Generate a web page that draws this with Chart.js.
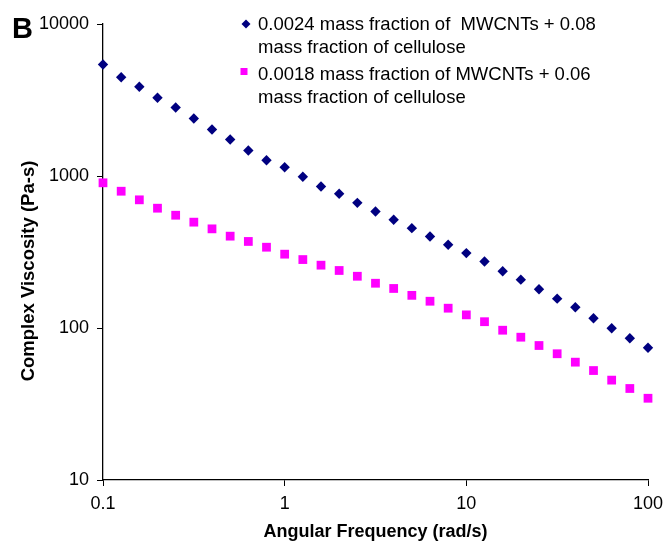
<!DOCTYPE html>
<html>
<head>
<meta charset="utf-8">
<script src="https://cdn.jsdelivr.net/npm/chart.js@4/dist/chart.umd.min.js"></script>
<style>
	html, body { margin: 0; padding: 0; background: #fff; }
	#wrap { width: 665px; height: 543px; position: relative; }
</style>
</head>
<body>
<div id="wrap"><canvas id="chart"></canvas></div>
<script>
'use strict';

// angular frequency (rad/s)
const frequencies = [
	0.1, 0.1259, 0.1585, 0.1995, 0.2512, 0.3162, 0.3981, 0.5012, 0.631, 0.7943,
	1, 1.259, 1.585, 1.995, 2.512, 3.162, 3.981, 5.012, 6.31, 7.943,
	10, 12.59, 15.85, 19.95, 25.12, 31.62, 39.81, 50.12, 63.1, 79.43, 100
];

// complex viscosity (Pa-s), 0.0024 MWCNTs + 0.08 cellulose
const viscosityHigh = [
	5415, 4467, 3862, 3269, 2823, 2389, 2022, 1739, 1472, 1270,
	1143, 988, 853, 764, 666, 584, 515, 454, 400, 353,
	311, 274, 236, 208, 180, 156, 137, 116, 99.7, 85.7, 74.1
];

// complex viscosity (Pa-s), 0.0018 MWCNTs + 0.06 cellulose
const viscosityLow = [
	902, 794, 697, 614, 552, 497, 449, 402, 371, 340,
	306, 282, 259, 239, 219, 197, 182, 164, 150, 135,
	122, 110, 96.7, 87, 76.7, 67.7, 59.6, 52.5, 45.4, 40, 34.5
];

const seriesLabels = [
	['0.0024 mass fraction of  MWCNTs + 0.08', 'mass fraction of cellulose'],
	['0.0018 mass fraction of MWCNTs + 0.06', 'mass fraction of cellulose']
];

const xTicks = [0.1, 1, 10, 100];
const yTicks = [10, 100, 1000, 10000];

const xTitle = 'Angular Frequency (rad/s)';
const yTitle = 'Complex Viscosity (Pa-s)';
const panelLetter = 'B';

const FONT = 'Arial, "Liberation Sans", sans-serif';

const toPoints = (ys) => ys.map((y, i) => ({x: frequencies[i], y: y}));

// legend inside the plot, panel letter and y title
const extras = {
	id: 'extras',
	afterDraw(chart) {
		const ctx = chart.ctx;
		const entries = [
			{x: 246, y: 24, lines: [30, 52.5]},
			{x: 244, y: 71.5, lines: [80, 102.5]}
		];
		ctx.save();
		chart.data.datasets.forEach((ds, i) => {
			const e = entries[i];
			ctx.fillStyle = ds.backgroundColor;
			ctx.beginPath();
			if (ds.pointStyle === 'rectRot') {
				ctx.moveTo(e.x, e.y - 4.5);
				ctx.lineTo(e.x + 4.5, e.y);
				ctx.lineTo(e.x, e.y + 4.5);
				ctx.lineTo(e.x - 4.5, e.y);
				ctx.closePath();
			} else {
				ctx.rect(e.x - 3.5, e.y - 3.5, 7, 7);
			}
			ctx.fill();

			ctx.fillStyle = '#000';
			ctx.font = '18.5px ' + FONT;
			ctx.textAlign = 'left';
			ctx.textBaseline = 'alphabetic';
			ds.label.forEach((line, j) => {
				ctx.fillText(line, 258, e.lines[j]);
			});
		});

		ctx.font = 'bold 29px ' + FONT;
		ctx.fillText(panelLetter, 12, 38);

		ctx.translate(29, 271);
		ctx.rotate(-Math.PI / 2);
		ctx.font = 'bold 18.5px ' + FONT;
		ctx.textAlign = 'center';
		ctx.textBaseline = 'middle';
		ctx.fillText(yTitle, 0, 0);
		ctx.restore();
	}
};

window.onload = function() {
	const canvas = document.getElementById('chart');

	const axisFont = {family: FONT, size: 18};
	const titleFont = {family: FONT, size: 18, weight: 'bold'};

	new Chart(canvas, {
		type: 'scatter',
		data: {
			datasets: [
				{
					label: seriesLabels[0],
					data: toPoints(viscosityHigh),
					pointStyle: 'rectRot',
					pointRadius: 5.2,
					pointHoverRadius: 5.2,
					backgroundColor: '#000080',
					borderColor: '#000080',
					borderWidth: 0,
					clip: false
				},
				{
					label: seriesLabels[1],
					data: toPoints(viscosityLow),
					pointStyle: 'rect',
					pointRadius: 6.2,
					pointHoverRadius: 6.2,
					backgroundColor: '#ff00ff',
					borderColor: '#ff00ff',
					borderWidth: 0,
					clip: false
				}
			]
		},
		options: {
			responsive: true,
			maintainAspectRatio: false,
			animation: false,
			events: [],
			layout: {
				padding: {left: 0, top: 24, right: 17, bottom: 0}
			},
			plugins: {
				legend: {display: false},
				tooltip: {enabled: false}
			},
			scales: {
				x: {
					type: 'logarithmic',
					min: 0.1,
					max: 100,
					afterBuildTicks: (scale) => {
						scale.ticks = xTicks.map(v => ({value: v}));
					},
					afterFit: (scale) => {
						scale.height = 63;
						scale.paddingLeft = 0;
						scale.paddingRight = 0;
					},
					ticks: {
						color: '#000',
						font: axisFont,
						padding: 7,
						maxRotation: 0,
						autoSkip: false,
						callback: (v) => String(v)
					},
					grid: {
						drawOnChartArea: false,
						drawTicks: true,
						tickLength: 6,
						color: '#000'
					},
					border: {color: '#000', width: 1.3},
					title: {
						display: true,
						text: xTitle,
						color: '#000',
						font: titleFont,
						padding: {top: 0, bottom: 0}
					}
				},
				y: {
					type: 'logarithmic',
					min: 10,
					max: 10000,
					afterBuildTicks: (scale) => {
						scale.ticks = yTicks.map(v => ({value: v}));
					},
					afterFit: (scale) => {
						scale.width = 103;
						scale.paddingTop = 0;
						scale.paddingBottom = 0;
					},
					ticks: {
						color: '#000',
						font: axisFont,
						padding: 8,
						autoSkip: false,
						callback: (v) => String(v)
					},
					grid: {
						drawOnChartArea: false,
						drawTicks: true,
						tickLength: 6,
						color: '#000'
					},
					border: {color: '#000', width: 1.3}
				}
			}
		},
		plugins: [extras]
	});
};
</script>
</body>
</html>
